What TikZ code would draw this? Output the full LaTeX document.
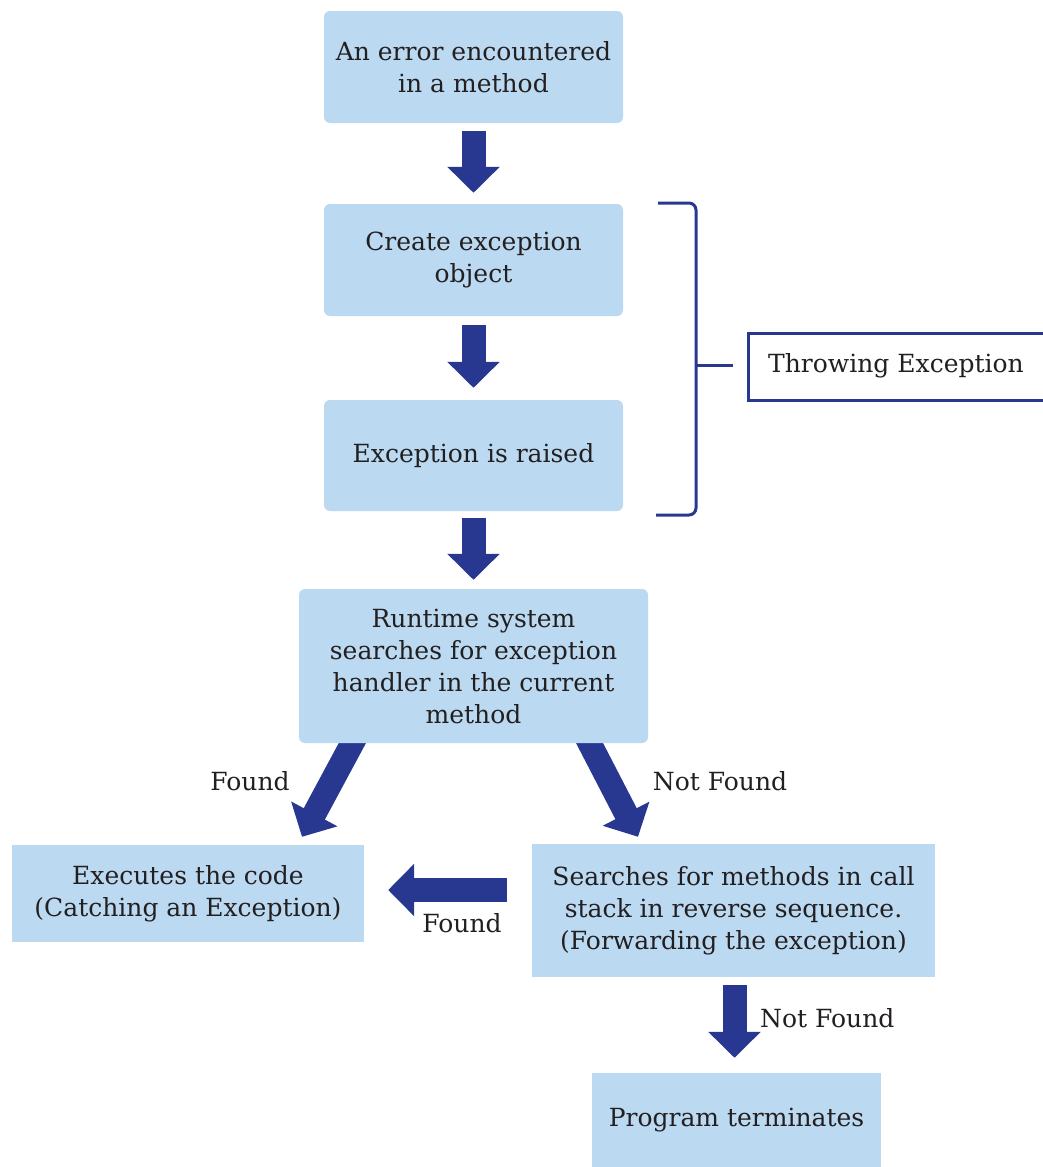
\documentclass[tikz,border=0pt]{standalone}
\usepackage{fontspec}
\setmainfont{DejaVu Serif}
\usetikzlibrary{arrows.meta,backgrounds,calc}
\definecolor{boxblue}{RGB}{187,218,242}
\definecolor{arrowblue}{RGB}{40,56,145}
\definecolor{textgray}{RGB}{35,31,32}
\tikzset{
  bluebox/.style={fill=boxblue, draw=none, align=center, inner sep=0pt, text=textgray,
    font=\fontsize{25}{32}\selectfont},
  roundbox/.style={bluebox, rounded corners=6pt},
  barrow/.style={draw=arrowblue, line width=24pt, -{Triangle[length=26pt,width=51pt]}},
  lbl/.style={text=textgray, font=\fontsize{25}{32}\selectfont, inner sep=0pt},
  bracketline/.style={draw=arrowblue, line width=3pt},
}
\begin{document}
\begin{tikzpicture}[x=1pt,y=-1pt]
\clip (0,0) rectangle (1043,1167);
% boxes
\node[roundbox, minimum width=299pt, minimum height=112pt] (n1) at (473.5,67) {An error encountered\\in a method};
\node[roundbox, minimum width=299pt, minimum height=112pt] (n2) at (473.5,260) {Create exception\\object};
\node[roundbox, minimum width=299pt, minimum height=111pt] (n3) at (473.5,455.5) {Exception is raised};
\node[roundbox, minimum width=349pt, minimum height=154pt] (n4) at (473.5,666) {Runtime system\\searches for exception\\handler in the current\\method};
\node[bluebox, minimum width=352pt, minimum height=97pt] (n5) at (188,893.5) {Executes the code\\(Catching an Exception)};
\node[bluebox, minimum width=403pt, minimum height=133pt] (n6) at (733.5,910.5) {Searches for methods in call\\stack in reverse sequence.\\(Forwarding the exception)};
\node[bluebox, minimum width=289pt, minimum height=94pt] (n7) at (736.5,1120) {Program terminates};
% throwing exception
\node[draw=arrowblue, line width=3pt, fill=white, minimum width=312pt, minimum height=67pt, inner sep=0pt] (te) at (904,366.5) {};
\node[lbl, anchor=west] (tetext) at (768,366) {Throwing Exception};
% bracket
\coordinate (bt) at (658,203);
\coordinate (bb) at (656,515);
\coordinate (bm) at (696,365);
\coordinate (bmr) at (733,365);
\draw[bracketline, rounded corners=7pt] (bt) -| (bm) |- (bb);
\draw[bracketline] (bm) -- (bmr);
% arrows
\begin{scope}[on background layer]
\fill[white] (0,0) rectangle (1043,1167);
\draw[barrow] ($(n1.south)+(0,8)$) -- ($(n2.north)+(0,-11)$);
\draw[barrow] ($(n2.south)+(0,9)$) -- ($(n3.north)+(0,-12)$);
\draw[barrow] ($(n3.south)+(0,7)$) -- ($(n4.north)+(0,-9)$);
\draw[barrow] ($(n4.south)+(-118,-6)$) -- ($(n5.north)+(114,-8)$);
\draw[barrow] ($(n4.south)+(113,-6)$) -- ($(n6.north)+(-95.5,-7)$);
\draw[barrow] ($(n6.west)+(-25,-20.5)$) -- ($(n5.east)+(24,-3.5)$);
\draw[barrow] ($(n6.south)+(1,8)$) -- ($(n7.north)+(-2,-15)$);
\end{scope}
% labels
\node[lbl] (lf1) at (250,781) {Found};
\node[lbl] (lnf1) at (720,781) {Not Found};
\node[lbl] (lf2) at (462,923) {Found};
\node[lbl, anchor=west] (lnf2) at (760,1018) {Not Found};
\end{tikzpicture}
\end{document}
